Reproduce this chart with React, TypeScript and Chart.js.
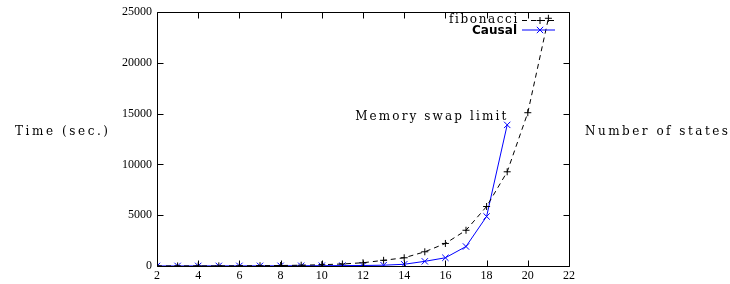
import React, { useEffect, useRef } from 'react';
import { Chart, registerables } from 'chart.js';

Chart.register(...registerables);

const states = [2, 3, 4, 5, 6, 7, 8, 9, 10, 11, 12, 13, 14, 15, 16, 17, 18, 19, 20, 21];
const fibonacciTimes = [3, 4, 7, 11, 18, 30, 48, 78, 125, 200, 320, 560, 810, 1400, 2220, 3520, 5860, 9280, 15100, 24400];
const causalStates = [2, 3, 4, 5, 6, 7, 8, 9, 10, 11, 12, 13, 14, 15, 16, 17, 18, 19];
const causalTimes = [5, 6, 8, 10, 12, 15, 20, 25, 30, 40, 50, 80, 170, 460, 810, 1920, 4880, 13900];
const xTickValues = [2, 4, 6, 8, 10, 12, 14, 16, 18, 20, 22];
const yTickValues = [0, 5000, 10000, 15000, 20000, 25000];
const seriesNames = ['fibonacci', 'Causal'];
const yTitle = 'Time (sec.)';
const xTitle = 'Number of states';
const noteText = 'Memory swap limit';
const noteAt = { x: 19, y: 13900 };

const FONT = '"Liberation Serif", "Times New Roman", serif';
const TFONT = '"DejaVu Serif", serif';
const SFONT = '"DejaVu Sans", sans-serif';

function spacedText(ctx: CanvasRenderingContext2D, text: string, x: number, y: number, width: number, align: 'left' | 'right') {
  (ctx as any).letterSpacing = '0px';
  const w = ctx.measureText(text).width;
  const sp = (width - w) / (text.length - 1);
  (ctx as any).letterSpacing = sp + 'px';
  ctx.textAlign = 'left';
  const startX = align === 'left' ? x : x - width;
  ctx.fillText(text, startX, y);
  (ctx as any).letterSpacing = '0px';
}

const framePlugin = {
  id: 'gnuframe',
  afterDraw(chart: any) {
    const { ctx, chartArea: a, scales } = chart;
    const xs = scales.x;
    const ys = scales.y;
    ctx.save();
    ctx.strokeStyle = '#000';
    ctx.lineWidth = 1;
    const L = Math.round(a.left) + 0.5;
    const R = Math.round(a.right) + 0.5;
    const T = Math.round(a.top) + 0.5;
    const B = Math.round(a.bottom) + 0.5;
    ctx.beginPath();
    ctx.rect(L, T, R - L, B - T);
    ctx.stroke();
    ctx.beginPath();
    for (const v of xTickValues) {
      const px = Math.round(xs.getPixelForValue(v)) + 0.5;
      ctx.moveTo(px, B); ctx.lineTo(px, B - 6);
      ctx.moveTo(px, T); ctx.lineTo(px, T + 6);
    }
    for (const v of yTickValues) {
      const py = Math.round(ys.getPixelForValue(v)) + 0.5;
      ctx.moveTo(L, py); ctx.lineTo(L + 6, py);
      ctx.moveTo(R, py); ctx.lineTo(R - 6, py);
    }
    ctx.stroke();

    ctx.fillStyle = '#000';
    ctx.textBaseline = 'alphabetic';
    ctx.font = '12px ' + TFONT;
    spacedText(ctx, yTitle, 15, 135, 93, 'left');
    spacedText(ctx, xTitle, 585, 135, 143, 'left');
    const nx = xs.getPixelForValue(noteAt.x);
    const ny = ys.getPixelForValue(noteAt.y);
    spacedText(ctx, noteText, nx - 1, ny - 5, 151, 'right');

    // legend
    const ds = chart.data.datasets;
    const baselines = [23, 33.5];
    const lineYs = [20.5, 30];
    const textRight = 517;
    const s0 = 522, s1 = 555, sm = 540;
    ds.forEach((d: any, i: number) => {
      const y = lineYs[i];
      ctx.font = i === 1 ? 'bold 12px ' + SFONT : '12px ' + TFONT;
      ctx.fillStyle = '#000';
      spacedText(ctx, seriesNames[i], textRight, baselines[i], i === 1 ? 45 : 68, 'right');
      ctx.strokeStyle = d.borderColor;
      ctx.lineWidth = 1;
      ctx.setLineDash(d.borderDash || []);
      ctx.beginPath();
      ctx.moveTo(s0, y); ctx.lineTo(s1, y);
      ctx.stroke();
      ctx.setLineDash([]);
      ctx.beginPath();
      const r = d.pointRadius;
      if (d.pointStyle === 'cross') {
        ctx.moveTo(sm - r, y); ctx.lineTo(sm + r, y);
        ctx.moveTo(sm, y - r); ctx.lineTo(sm, y + r);
      } else {
        const o = r * Math.SQRT1_2;
        ctx.moveTo(sm - o, y - o); ctx.lineTo(sm + o, y + o);
        ctx.moveTo(sm - o, y + o); ctx.lineTo(sm + o, y - o);
      }
      ctx.stroke();
    });
    ctx.restore();
  },
};

export default function App() {
  const ref = useRef<HTMLCanvasElement>(null);
  useEffect(() => {
    if (!ref.current) return;
    const chart = new Chart(ref.current, {
      type: 'line',
      data: {
        datasets: [
          {
            label: seriesNames[0],
            data: states.map((s, i) => ({ x: s, y: fibonacciTimes[i] })),
            borderColor: '#000000',
            backgroundColor: '#000000',
            borderWidth: 1,
            borderDash: [5, 4],
            pointStyle: 'cross',
            pointRadius: 3.5,
            pointBorderWidth: 1,
            pointBorderColor: '#000000',
            fill: false,
            tension: 0,
          },
          {
            label: seriesNames[1],
            data: causalStates.map((s, i) => ({ x: s, y: causalTimes[i] })),
            borderColor: '#0000ff',
            backgroundColor: '#0000ff',
            borderWidth: 1,
            pointStyle: 'crossRot',
            pointRadius: 4.5,
            pointBorderWidth: 1,
            pointBorderColor: '#0000ff',
            fill: false,
            tension: 0,
          },
        ],
      },
      options: {
        responsive: false,
        animation: false,
        devicePixelRatio: 1,
        layout: { padding: { left: 0, right: 161, top: 10, bottom: 0 } },
        plugins: { legend: { display: false }, tooltip: { enabled: false } },
        scales: {
          x: {
            type: 'linear',
            min: 2,
            max: 22,
            grid: { display: false, drawTicks: false },
            border: { display: false },
            ticks: {
              stepSize: 2,
              padding: 3,
              color: '#000',
              font: { family: FONT, size: 12 },
              maxRotation: 0,
              callback: (v: any) => String(v),
            },
            afterFit: (s: any) => { s.height = 18; },
          },
          y: {
            type: 'linear',
            min: 0,
            max: 25000,
            grid: { display: false, drawTicks: false },
            border: { display: false },
            ticks: {
              stepSize: 5000,
              padding: 5,
              color: '#000',
              font: { family: FONT, size: 12 },
              callback: (v: any) => String(v),
            },
            afterFit: (s: any) => { s.width = 157; },
          },
        },
      },
      plugins: [framePlugin],
    });
    return () => chart.destroy();
  }, []);
  return (
    <div style={{ position: 'absolute', left: 0, top: 0, width: 730, height: 284, background: '#fff' }}>
      <canvas ref={ref} width={730} height={284} />
    </div>
  );
}
